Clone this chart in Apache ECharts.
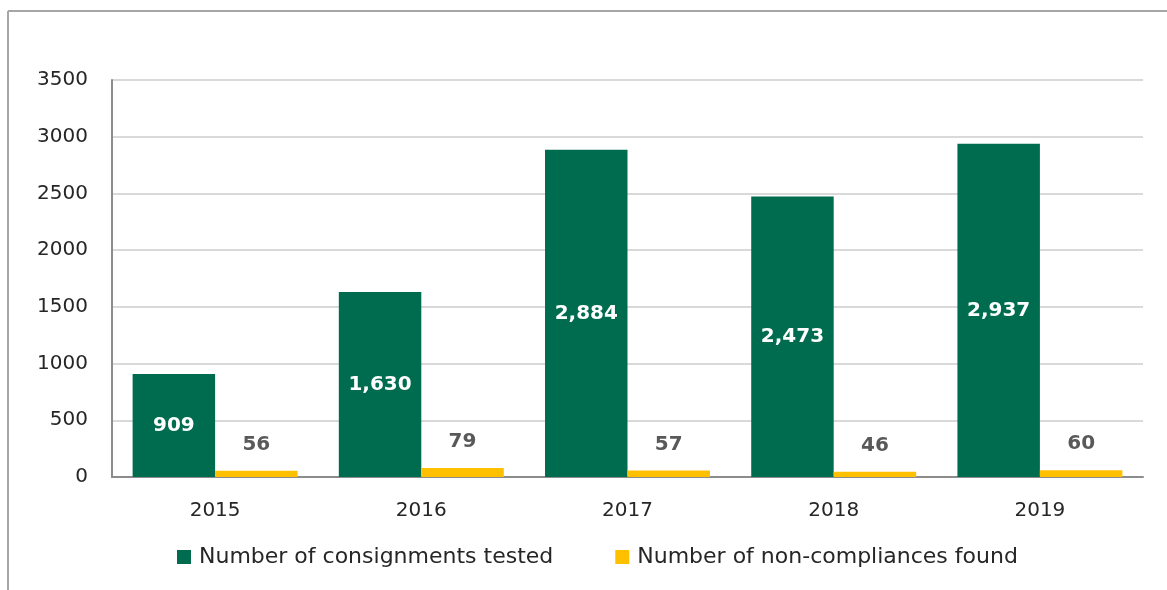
<!DOCTYPE html>
<html>
<head>
<meta charset="utf-8">
<script src="https://cdn.jsdelivr.net/npm/echarts@6/dist/echarts.min.js"></script>
<style>
html,body{margin:0;padding:0;background:#fff;}
#chart{width:1167px;height:590px;}
</style>
</head>
<body>
<div id="chart"></div>
<script>
const categories = ['2015', '2016', '2017', '2018', '2019'];
const tested = [909, 1630, 2884, 2473, 2937];
const nonCompliances = [56, 79, 57, 46, 60];
const seriesNames = ['Number of consignments tested', 'Number of non-compliances found'];

const FONT = 'DejaVu Sans';
const chart = echarts.init(document.getElementById('chart'));
const fmt = v => v.toLocaleString('en-US');

chart.setOption({
  animation: false,
  textStyle: { fontFamily: FONT },
  graphic: [
    { type: 'line', shape: { x1: 8, y1: 11, x2: 1167, y2: 11 }, style: { stroke: '#a6a6a6', lineWidth: 2 } },
    { type: 'line', shape: { x1: 8, y1: 11, x2: 8, y2: 590 }, style: { stroke: '#a6a6a6', lineWidth: 2 } }
  ],
  grid: { left: 112, right: 24, top: 80, bottom: 113, containLabel: false },
  legend: {
    bottom: 17,
    left: 172,
    itemWidth: 14,
    itemHeight: 14,
    itemGap: 62,
    icon: 'rect',
    textStyle: { fontSize: 22, color: '#262626', fontFamily: FONT, padding: [0, 0, 0, 3] },
    data: seriesNames
  },
  xAxis: {
    type: 'category',
    data: categories,
    axisLine: { lineStyle: { color: '#8c8c8c', width: 2 } },
    axisTick: { show: false },
    axisLabel: { fontSize: 20, color: '#262626', margin: 24 }
  },
  yAxis: {
    type: 'value',
    min: 0,
    max: 3500,
    interval: 500,
    axisLine: { show: true, lineStyle: { color: '#8c8c8c', width: 2 } },
    axisTick: { show: false },
    splitLine: { lineStyle: { color: '#d9d9d9', width: 2 } },
    axisLabel: { fontSize: 20, color: '#262626', margin: 24, formatter: v => String(v) }
  },
  series: [
    {
      name: seriesNames[0],
      type: 'bar',
      data: tested,
      barGap: '0%',
      barCategoryGap: '20%',
      itemStyle: { color: '#006C4F' },
      label: {
        show: true,
        position: 'inside',
        color: '#ffffff',
        fontWeight: 'bold',
        fontSize: 20,
        fontFamily: FONT,
        formatter: p => fmt(p.value)
      }
    },
    {
      name: seriesNames[1],
      type: 'bar',
      data: nonCompliances,
      itemStyle: { color: '#FFC000' },
      label: {
        show: true,
        position: 'top',
        distance: 16,
        color: '#595959',
        fontWeight: 'bold',
        fontSize: 20,
        fontFamily: FONT,
        formatter: p => fmt(p.value)
      }
    }
  ]
});
</script>
</body>
</html>
